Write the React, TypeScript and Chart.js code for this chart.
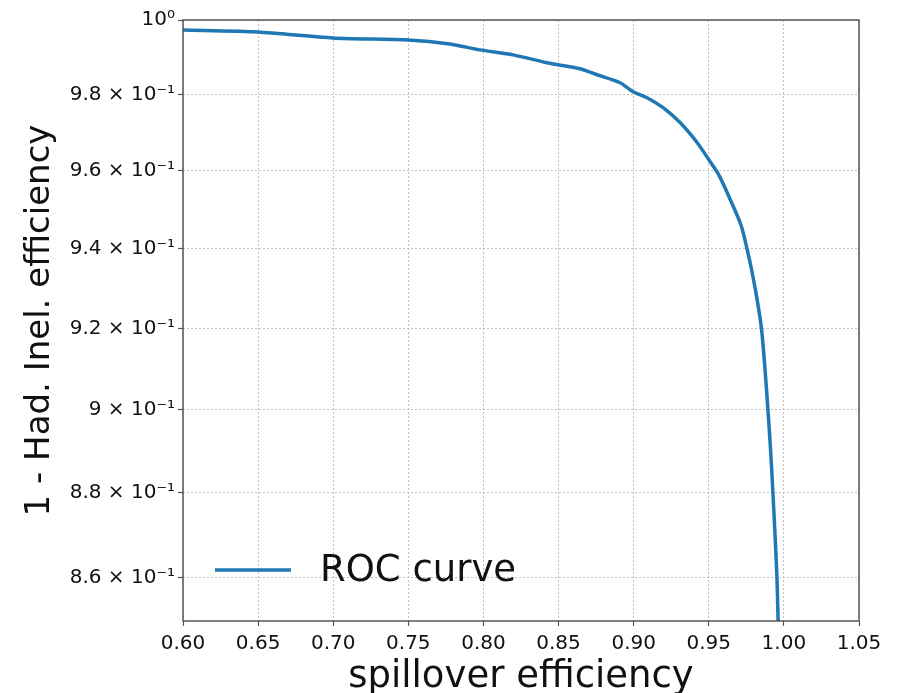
import React, { useEffect, useRef } from "react";
import { Chart, registerables } from "chart.js";

Chart.register(...registerables);

const xValues = [0.6, 0.6499, 0.6999, 0.7498, 0.7777, 0.7977, 0.8197, 0.8423, 0.8496, 0.8643, 0.8756, 0.8909, 0.8996, 0.9089, 0.9196, 0.9309, 0.9422, 0.9508, 0.9565, 0.9642, 0.9715, 0.9755, 0.9788, 0.9821, 0.9851, 0.9874, 0.9894, 0.9912, 0.9927, 0.9941, 0.9954, 0.9961, 0.9968];
const yValues = [0.99731, 0.99677, 0.99516, 0.99463, 0.99356, 0.99195, 0.99062, 0.98849, 0.98796, 0.98689, 0.9853, 0.98317, 0.9808, 0.97921, 0.97658, 0.97264, 0.96741, 0.96248, 0.9591, 0.95268, 0.946, 0.93994, 0.93413, 0.92736, 0.9199, 0.91004, 0.89981, 0.88992, 0.87991, 0.87002, 0.86, 0.85078, 0.8414];
const yTickValues = [0.86, 0.88, 0.9, 0.92, 0.94, 0.96, 0.98, 1.0];
const yTickLabels = ["8.6 × 10⁻¹", "8.8 × 10⁻¹", "9 × 10⁻¹", "9.2 × 10⁻¹", "9.4 × 10⁻¹", "9.6 × 10⁻¹", "9.8 × 10⁻¹", "10⁰"];
const xTickValues = [0.6, 0.65, 0.7, 0.75, 0.8, 0.85, 0.9, 0.95, 1.0, 1.05];
const seriesLabel = "ROC curve";
const xTitle = "spillover efficiency";
const yTitle = "1 - Had. Inel. efficiency";

const FONT = "'DejaVu Sans', sans-serif";
const LINE_COLOR = "#1f77b4";

const framePlugin = {
  id: "frame",
  afterDraw(chart: any) {
    const { ctx, chartArea } = chart;
    ctx.save();
    ctx.strokeStyle = "#555555";
    ctx.lineWidth = 1.5;
    ctx.strokeRect(chartArea.left, chartArea.top, chartArea.right - chartArea.left, chartArea.bottom - chartArea.top);
    // legend
    const ds = chart.data.datasets[0];
    const y = 570;
    ctx.strokeStyle = ds.borderColor;
    ctx.lineWidth = 3.5;
    ctx.beginPath();
    ctx.moveTo(chartArea.left + 32, y);
    ctx.lineTo(chartArea.left + 108, y);
    ctx.stroke();
    ctx.fillStyle = "#111111";
    ctx.font = `37px ${FONT}`;
    ctx.textBaseline = "middle";
    ctx.textAlign = "left";
    ctx.fillText(ds.label, chartArea.left + 137, y + 1);
    ctx.restore();
  },
};

const gridOpts = {
  color: "#b0b0b0",
  lineWidth: 0.8,
  drawTicks: true,
  tickLength: 5,
  tickColor: "#555555",
  tickWidth: 1.2,
  tickBorderDash: [],
};

export default function App() {
  const ref = useRef<HTMLCanvasElement | null>(null);
  useEffect(() => {
    if (!ref.current) return;
    const data = xValues.map((x, i) => ({ x, y: yValues[i] }));
    const chart = new Chart(ref.current, {
      type: "line",
      data: {
        datasets: [
          {
            label: seriesLabel,
            data,
            borderColor: LINE_COLOR,
            borderWidth: 3.5,
            pointRadius: 0,
            tension: 0.25,
            borderJoinStyle: "round",
            fill: false,
          },
        ],
      },
      options: {
        responsive: false,
        animation: false,
        layout: { padding: { left: 0, top: 20, right: 49, bottom: 0 } },
        plugins: { legend: { display: false }, tooltip: { enabled: false } },
        scales: {
          x: {
            type: "linear",
            min: 0.6,
            max: 1.05,
            afterBuildTicks: (scale: any) => {
              scale.ticks = xTickValues.map((v) => ({ value: v }));
            },
            afterFit: (scale: any) => {
              scale.height = 72;
            },
            ticks: {
              callback: (v: any) => Number(v).toFixed(2),
              color: "#111111",
              font: { family: FONT, size: 20 },
              padding: 6,
              maxRotation: 0,
              autoSkip: false,
            },
            grid: gridOpts,
            border: { display: false, dash: [2, 2] },
            title: {
              display: true,
              text: xTitle,
              color: "#111111",
              font: { family: FONT, size: 37, lineHeight: 1 },
              padding: { top: 0, bottom: -3 },
            },
          },
          y: {
            type: "logarithmic",
            min: 0.85,
            max: 1.0,
            afterBuildTicks: (scale: any) => {
              scale.ticks = yTickValues.map((v) => ({ value: v }));
            },
            afterFit: (scale: any) => {
              scale.width = 183;
            },
            ticks: {
              callback: (v: any) => {
                const i = yTickValues.findIndex((t) => Math.abs(t - Number(v)) < 1e-9);
                return i >= 0 ? yTickLabels[i] : "";
              },
              color: "#111111",
              font: { family: FONT, size: 20 },
              padding: 3,
              autoSkip: false,
            },
            grid: gridOpts,
            border: { display: false, dash: [2, 2] },
            title: {
              display: true,
              text: yTitle,
              color: "#111111",
              font: { family: FONT, size: 34, lineHeight: 1.2 },
              padding: { top: 20, bottom: 0 },
            },
          },
        },
      },
      plugins: [framePlugin],
    } as any);
    return () => chart.destroy();
  }, []);
  return (
    <div style={{ position: "fixed", left: 0, top: 0, width: 908, height: 693, background: "#ffffff" }}>
      <canvas ref={ref} width={908} height={693} style={{ display: "block" }} />
    </div>
  );
}
